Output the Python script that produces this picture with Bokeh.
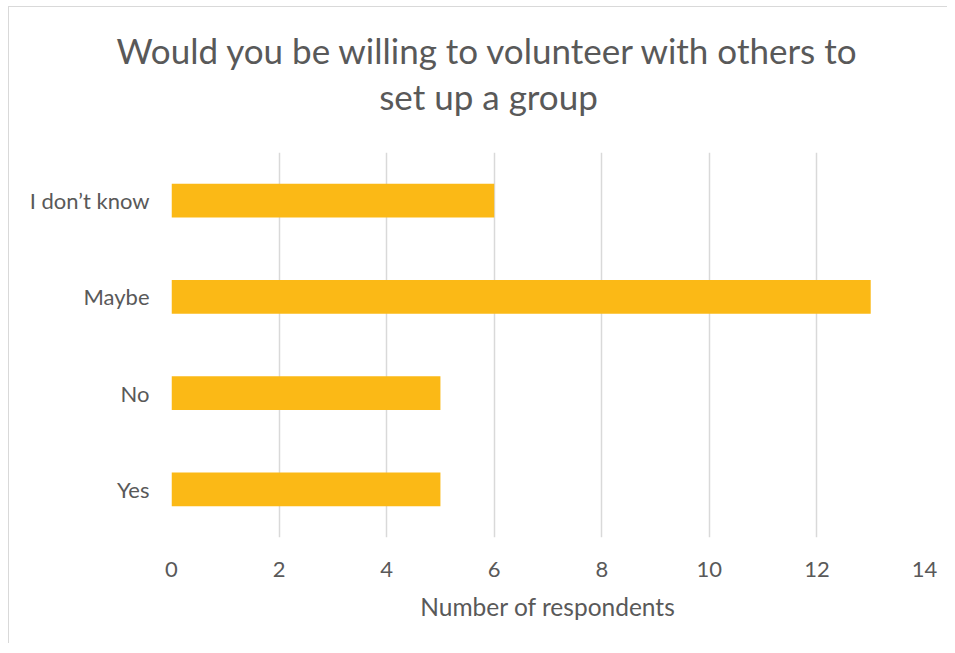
from bokeh.plotting import figure
from bokeh.models import FactorRange, Range1d, Label, FixedTicker
from bokeh.embed import file_html
from bokeh.resources import INLINE

categories = ["Yes", "No", "Maybe", "I don\u2019t know"]
counts = [5, 5, 13, 6]
x_ticks = [0, 2, 4, 6, 8, 10, 12, 14]

title_line1 = "Would you be willing to volunteer with others to"
title_line2 = "set up a group"
x_label = "Number of respondents"

FONT = "Lato"
TEXT = "#595959"
GRID = "#d9d9d9"
BAR = "#FBB916"

p = figure(width=939, height=637, output_backend="svg", toolbar_location=None,
           y_range=FactorRange(factors=categories, range_padding=0),
           x_range=Range1d(0, 14), title=None,
           min_border_left=162, min_border_right=24, min_border_top=145, min_border_bottom=107)

p.hbar(y=categories, right=counts, left=0, height=0.35, fill_color=BAR, line_color=None)

p.outline_line_color = None
p.styles = {"border-left": "1px solid #d9d9d9", "border-top": "1px solid #d9d9d9",
            "margin-left": "8px", "margin-top": "6px"}

p.xaxis.ticker = FixedTicker(ticks=x_ticks)
p.xaxis.axis_line_color = None
p.xaxis.major_tick_line_color = None
p.xaxis.minor_tick_line_color = None
p.xaxis.major_tick_out = 0
p.xaxis.major_label_standoff = 24
p.xaxis.major_label_text_font = FONT
p.xaxis.major_label_text_font_size = "22px"
p.xaxis.major_label_text_color = TEXT
p.xaxis.axis_label = x_label
p.xaxis.axis_label_text_font = FONT
p.xaxis.axis_label_text_font_size = "24.5px"
p.xaxis.axis_label_text_font_style = "normal"
p.xaxis.axis_label_text_color = TEXT
p.xaxis.axis_label_standoff = 12

p.yaxis.axis_line_color = None
p.yaxis.major_tick_line_color = None
p.yaxis.major_tick_out = 0
p.yaxis.major_label_standoff = 22
p.yaxis.major_label_text_font = FONT
p.yaxis.major_label_text_font_size = "22px"
p.yaxis.major_label_text_color = TEXT

p.xgrid.grid_line_color = GRID
p.xgrid.grid_line_width = 1.5
p.ygrid.grid_line_color = None

# title lines, placed in side panels (not clipped to the plot frame)
for txt, sy in [(title_line1, 103), (title_line2, 15)]:
    p.add_layout(Label(x=317, y=sy, x_units="screen", y_units="screen", text=txt,
                       text_align="center", text_baseline="middle", text_font=FONT,
                       text_font_size="35px", text_color=TEXT), "above")

open("out.html", "w").write(file_html(p, INLINE))
